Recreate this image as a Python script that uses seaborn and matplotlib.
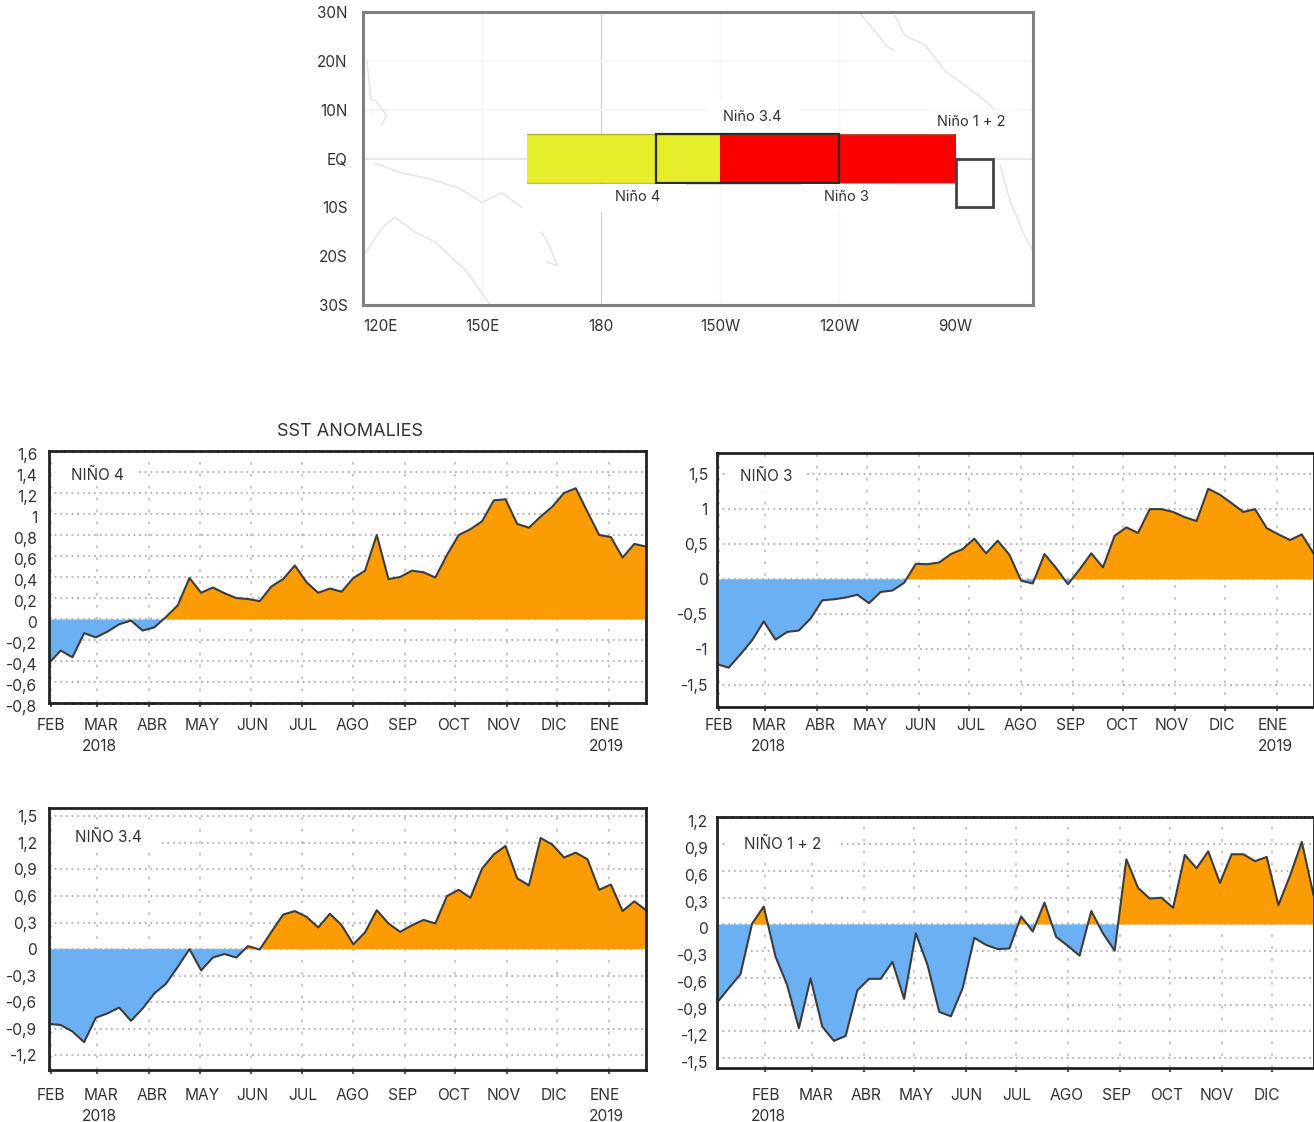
import matplotlib
matplotlib.use("Agg")
import matplotlib.pyplot as plt
import pandas as pd
import seaborn as sns
from matplotlib.patches import Rectangle
from matplotlib.transforms import Affine2D, ScaledTranslation

W, H = 1314, 1122

# weekly SST anomalies
nino4 = [-0.42, -0.30, -0.365, -0.135, -0.175, -0.12, -0.05, -0.015, -0.11, -0.08, 0.02, 0.13, 0.39,
         0.25, 0.30, 0.245, 0.20, 0.19, 0.17, 0.31, 0.38, 0.51, 0.35, 0.25, 0.29, 0.26,
         0.39, 0.46, 0.80, 0.38, 0.40, 0.46, 0.445, 0.395, 0.61, 0.80, 0.855, 0.93, 1.13,
         1.14, 0.905, 0.87, 0.975, 1.07, 1.20, 1.245, 1.02, 0.80, 0.78, 0.585, 0.715, 0.69]
nino3 = [-1.21, -1.26, -1.07, -0.87, -0.60, -0.86, -0.75, -0.73, -0.56, -0.30, -0.285, -0.26, -0.22,
         -0.34, -0.18, -0.16, -0.05, 0.22, 0.215, 0.24, 0.36, 0.43, 0.58, 0.37, 0.55, 0.35,
         -0.02, -0.06, 0.36, 0.16, -0.07, 0.14, 0.37, 0.17, 0.62, 0.74, 0.66, 1.0, 1.0,
         0.96, 0.885, 0.83, 1.29, 1.205, 1.085, 0.96, 1.0, 0.73, 0.64, 0.56, 0.64, 0.37]
nino34 = [-0.845, -0.857, -0.93, -1.05, -0.775, -0.725, -0.66, -0.81, -0.67, -0.5, -0.39, -0.2, 0.0,
          -0.24, -0.095, -0.055, -0.095, 0.035, -0.005, 0.195, 0.39, 0.43, 0.365, 0.245, 0.40, 0.27,
          0.055, 0.19, 0.44, 0.29, 0.195, 0.27, 0.33, 0.29, 0.60, 0.67, 0.58, 0.91, 1.07,
          1.165, 0.80, 0.72, 1.255, 1.18, 1.035, 1.09, 1.015, 0.67, 0.73, 0.43, 0.54, 0.44]
nino12 = [-0.877, -0.716, -0.56, 0.01, 0.2, -0.36, -0.68, -1.165, -0.605, -1.145, -1.306, -1.25, -0.74,
          -0.61, -0.61, -0.42, -0.835, -0.10, -0.455, -0.98, -1.03, -0.716, -0.15, -0.23, -0.276, -0.27,
          0.09, -0.08, 0.245, -0.14, -0.24, -0.35, 0.15, -0.10, -0.295, 0.73, 0.41, 0.29, 0.30,
          0.187, 0.78, 0.63, 0.82, 0.466, 0.787, 0.787, 0.71, 0.757, 0.216, 0.55, 0.925, 0.33]

yticks4 = [-0.8, -0.6, -0.4, -0.2, 0, 0.2, 0.4, 0.6, 0.8, 1, 1.2, 1.4, 1.6]
yticks3 = [-1.5, -1, -0.5, 0, 0.5, 1, 1.5]
yticks34 = [-1.2, -0.9, -0.6, -0.3, 0, 0.3, 0.6, 0.9, 1.2, 1.5]
yticks12 = [-1.5, -1.2, -0.9, -0.6, -0.3, 0, 0.3, 0.6, 0.9, 1.2]
months = ["FEB", "MAR", "ABR", "MAY", "JUN", "JUL", "AGO", "SEP", "OCT", "NOV", "DIC", "ENE"]

map_lat_ticks = [30, 20, 10, 0, -10, -20, -30]
map_lat_labels = ["30N", "20N", "10N", "EQ", "10S", "20S", "30S"]
map_lon_ticks = [120, 150, 180, 210, 240, 269.3]
map_lon_labels = ["120E", "150E", "180", "150W", "120W", "90W"]

# region edges as drawn on the map (lon)
yellow_lon = [161.3, 210]
red_lon = [210, 269.3]
box34_lon = [193.8, 240]
box12_lon = [269.3, 278.6]

# coastlines, lon/lat, roughly traced
coast_central_am = ([254, 256.5, 261.6, 266.6, 271.6, 276.7, 280.5, 283.5], [29.3, 25.2, 23.2, 18, 15, 11.9, 8.8, 6.8])
coast_south_am = ([280.5, 283, 286.7, 288.8], [-1.4, -8.6, -15.8, -18.9])
coast_philippines = ([121, 122, 123, 126, 124.6, 122], [20, 15, 12, 8.8, 6.8, 9])
coast_new_guinea = ([123, 130, 136, 144, 150, 155, 160], [-1, -3, -4, -6, -9, -7, -10])
coast_australia = ([120, 125, 128, 133, 138, 146, 152, 153], [-20, -14, -12, -15, -17, -23, -30, -31])
coast_islands = ([165, 167, 169, 166], [-15, -18, -22, -21])
coast_baja = ([245, 248, 252, 254], [30, 27, 23, 22])

sns.set_theme(style="white")
plt.rcParams["font.family"] = ["Inter", "DejaVu Sans"]
plt.rcParams["text.color"] = "#333333"

fig = plt.figure(figsize=(W / 100, H / 100), dpi=100)
# pixel coordinates of the image, y going down
px = Affine2D().scale(1 / W, -1 / H).translate(0, 1) + fig.transFigure


def new_axes(left, top, right, bottom):
    return fig.add_axes([left / W, 1 - bottom / H, (right - left) / W, (bottom - top) / H])


def anomaly_panel(box, values, start, ylim, yticks, name, name_xy, name_box, label_x0, label_step, labels,
                  label_y, years, pad, y_shift=0, dashed=()):
    ax = new_axes(*box)
    dates = pd.date_range(start, periods=len(values), freq="7D")
    s = pd.Series(values, index=dates)

    ax.fill_between(dates, s.values, 0, where=s.values >= 0, interpolate=True, color="#fb9c05", lw=0, zorder=2)
    ax.fill_between(dates, s.values, 0, where=s.values <= 0, interpolate=True, color="#6cb0f4", lw=0, zorder=2)
    sns.lineplot(x=dates, y=s.values, ax=ax, color="#3c3c3c", lw=1.5, zorder=3)

    ax.set_xlim(dates[0], dates[-1])
    ax.set_ylim(*ylim)
    ax.set_xlabel("")
    ax.set_ylabel("")
    ticks = [t for t in pd.date_range("2018-02-01", "2019-01-01", freq="MS") if t >= dates[0] and t <= dates[-1]]
    ax.set_xticks(ticks)
    ax.set_xticklabels([])
    ax.set_yticks(yticks)
    ax.set_yticklabels([f"{v:g}".replace(".", ",") for v in yticks], fontsize=11.2, color="#333333")
    ax.tick_params(axis="x", length=3, width=1.2, color="#333333", bottom=True)
    ax.tick_params(axis="y", length=0, pad=pad)
    if y_shift:
        off = ScaledTranslation(0, -y_shift / 100, fig.dpi_scale_trans)
        for lab in ax.get_yticklabels():
            lab.set_transform(lab.get_transform() + off)

    ax.set_axisbelow(True)
    ax.grid(axis="y", color="#b4b4b4", lw=1.4, linestyle=(0, (0.9, 2.0)))
    ax.grid(axis="x", color="#c4c4c4", lw=1.3, linestyle=(0, (1.5, 5.1)))

    # white box the label sits on hides the grid
    ax.add_patch(Rectangle((name_box[0], name_box[1]), name_box[2] - name_box[0], name_box[3] - name_box[1],
                           transform=px, facecolor="white", edgecolor="none", zorder=1, clip_on=False))
    fig.text(name_xy[0], name_xy[1], name, transform=px, ha="center", va="center", fontsize=11)

    for side, spine in ax.spines.items():
        spine.set_visible(side != "right" or box[2] < W)
        spine.set_color("#222222")
        spine.set_linewidth(2.0)
        spine.set_zorder(5)
        if side in dashed:
            spine.set_linestyle((0, (2.2, 0.7)))

    for i, lab in enumerate(labels):
        fig.text(label_x0 + i * label_step, label_y, lab, transform=px, ha="center", va="center", fontsize=11.2)
    for x, txt in years:
        fig.text(x, label_y + 21, txt, transform=px, ha="center", va="center", fontsize=11.2)
    return ax


anomaly_panel((49, 451, 646, 703), nino4, "2018-01-31", (-0.8, 1.6), yticks4, "NIÑO 4", (97, 475), (55, 462, 138, 486),
              51, 50.3, months, 725.5, [(99, "2018"), (606, "2019")], 8.5, y_shift=3, dashed=("top", "bottom"))
anomaly_panel((717, 453, 1313.5, 707), nino3, "2018-01-31", (-1.82, 1.8), yticks3, "NIÑO 3", (766, 476), (725, 460, 807, 492),
              719, 50.3, months, 725.5, [(768, "2018"), (1275, "2019")], 6.5)
anomaly_panel((49, 808, 646, 1070), nino34, "2018-01-31", (-1.365, 1.594), yticks34, "NIÑO 3.4", (108, 837), (55, 820, 160, 852),
              51, 50.3, months, 1095.5, [(99, "2018"), (606, "2019")], 8.5)
anomaly_panel((717, 817, 1313.5, 1068), nino12, "2018-01-03", (-1.61, 1.205), yticks12, "NIÑO 1 + 2", (783, 844), (727, 827, 837, 860),
              766, 50.1, months[:11], 1095.5, [(768, "2018")], 6.5, y_shift=4, dashed=("top",))

fig.text(350, 432, "SST ANOMALIES", transform=px, ha="center", va="center", fontsize=13)

# map of the Niño regions
ax = new_axes(363, 12, 1033, 305)
ax.set_xlim(120, 288.8)
ax.set_ylim(-30, 30)
ax.set_xticks(map_lon_ticks)
ax.set_xticklabels(map_lon_labels, fontsize=11, color="#333333")
ax.get_xticklabels()[0].set_ha("left")
ax.set_yticks(map_lat_ticks)
ax.set_yticklabels(map_lat_labels, fontsize=11, color="#333333")
ax.tick_params(axis="x", length=3, width=1.5, color="#777777", pad=7)
ax.tick_params(axis="y", length=3, width=1.5, color="#777777", pad=8)
ax.axvline(180, color="#d6d6d6", lw=1, zorder=1)
ax.axvline(150, color="#f6f6f6", lw=1, zorder=1)
ax.axvline(210, color="#f6f6f6", lw=1, zorder=1)
ax.axvline(240, color="#f6f6f6", lw=1, zorder=1)
ax.axhline(0, color="#e8e8e8", lw=1.5, zorder=1)
ax.axhline(20, color="#f7f7f7", lw=1.5, zorder=1)
ax.axhline(10, color="#f7f7f7", lw=1.5, zorder=1)
for lon, lat in [coast_central_am, coast_south_am, coast_philippines, coast_new_guinea, coast_australia,
                 coast_islands, coast_baja]:
    sns.lineplot(x=lon, y=lat, ax=ax, color="#e4e4e4", lw=1, sort=False, zorder=1)

ax.add_patch(Rectangle((yellow_lon[0], -5), yellow_lon[1] - yellow_lon[0], 10, facecolor="#e6ee2c", edgecolor="none", zorder=2))
ax.add_patch(Rectangle((red_lon[0], -5), red_lon[1] - red_lon[0], 10, facecolor="#fb0000", edgecolor="none", zorder=2))
ax.plot([yellow_lon[0], red_lon[1]], [5, 5], color="#8a8a40", lw=1, alpha=0.6, zorder=3)
ax.plot([yellow_lon[0], red_lon[1]], [-5, -5], color="#8a8a40", lw=1, alpha=0.6, zorder=3)
ax.add_patch(Rectangle((box34_lon[0], -5), box34_lon[1] - box34_lon[0], 10, facecolor="none", edgecolor="#2b2b2b", lw=1.6, zorder=4))
ax.add_patch(Rectangle((box12_lon[0], -10), box12_lon[1] - box12_lon[0], 10, facecolor="white", edgecolor="#444444", lw=2.0, zorder=4))

for xy, txt, bx in [((752, 117), "Niño 3.4", (707, 101, 800, 132)),
                    ((638, 197), "Niño 4", (592, 184, 686, 212)),
                    ((846, 197), "Niño 3", (801, 184, 895, 212)),
                    ((971, 122), "Niño 1 + 2", (927, 110, 1019, 134))]:
    ax.add_patch(Rectangle((bx[0], bx[1]), bx[2] - bx[0], bx[3] - bx[1], transform=px, facecolor="white",
                           edgecolor="none", zorder=6, clip_on=False))
    fig.text(xy[0], xy[1], txt, transform=px, ha="center", va="center", fontsize=10.5, zorder=7)

for spine in ax.spines.values():
    spine.set_color("#808080")
    spine.set_linewidth(2.2)
    spine.set_zorder(5)

fig.savefig("out.png", dpi=100, facecolor="white")
